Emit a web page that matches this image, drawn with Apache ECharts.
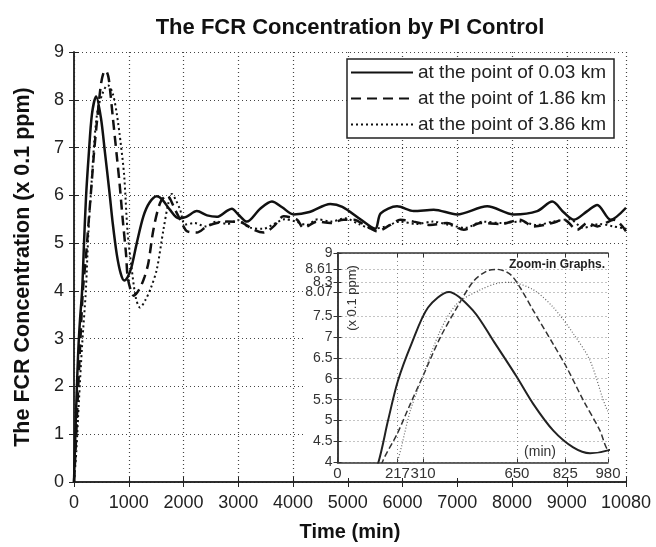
<!DOCTYPE html>
<html>
<head>
<meta charset="utf-8">
<script src="https://cdn.jsdelivr.net/npm/echarts@6/dist/echarts.min.js"></script>
<style>html,body{margin:0;padding:0;background:#fff;}#c{width:656px;height:547px;}</style>
</head>
<body>
<div id="c"></div>
<script>
// ---- data (time in min, concentration in x0.1 ppm) ----
var seriesNames = ['at the point of 0.03 km', 'at the point of 1.86 km', 'at the point of 3.86 km'];
var mainXTicks = [0, 1000, 2000, 3000, 4000, 5000, 6000, 7000, 8000, 9000, 10080];
var mainYTicks = [0, 1, 2, 3, 4, 5, 6, 7, 8, 9];
var zoomXTicks = [0, 217, 310, 650, 825, 980];
var zoomYTicks = [4, 4.5, 5, 5.5, 6, 6.5, 7, 7.5, 8.07, 8.3, 8.61, 9];

var solid003 = [[0,0],[20,0.8],[50,1.9],[80,2.8],[110,3.4],[148,4.0],[183,5.0],[219,5.95],[268,6.83],[328,7.7],[404,8.07],[492,7.62],[565,6.9],[647,6.07],[709,5.4],[782,4.76],[854,4.36],[915,4.22],[980,4.29],[1050,4.5],[1146,5.0],[1267,5.56],[1380,5.85],[1512,5.98],[1620,5.9],[1750,5.7],[1907,5.52],[2050,5.55],[2243,5.67],[2430,5.58],[2608,5.55],[2800,5.68],[2883,5.72],[3000,5.6],[3157,5.45],[3400,5.72],[3614,5.87],[3800,5.75],[4010,5.6],[4300,5.65],[4680,5.82],[4900,5.76],[5229,5.5],[5500,5.3],[5600,5.62],[5899,5.77],[6203,5.67],[6569,5.7],[6996,5.6],[7545,5.77],[8032,5.6],[8459,5.67],[8733,5.87],[8946,5.64],[9129,5.49],[9373,5.67],[9555,5.8],[9799,5.49],[10080,5.74]];

var dashed186 = [[0,0],[30,0.7],[70,1.8],[110,2.8],[162,4.0],[216,4.68],[264,5.4],[310,6.07],[372,6.98],[433,7.7],[493,8.33],[541,8.57],[578,8.61],[626,8.49],[662,8.17],[710,7.62],[782,6.82],[831,6.26],[891,5.48],[951,4.76],[980,4.29],[1040,4.0],[1090,3.9],[1200,4.05],[1290,4.3],[1359,4.59],[1450,5.28],[1572,5.84],[1695,6.0],[1846,5.7],[2000,5.35],[2060,5.25],[2243,5.22],[2426,5.35],[2608,5.42],[2791,5.45],[3035,5.44],[3279,5.28],[3462,5.22],[3645,5.35],[3828,5.56],[4071,5.49],[4193,5.32],[4437,5.45],[4680,5.42],[4924,5.49],[5107,5.49],[5351,5.35],[5534,5.25],[5777,5.38],[5960,5.49],[6203,5.45],[6500,5.38],[6813,5.42],[7118,5.28],[7422,5.42],[7800,5.4],[8144,5.49],[8388,5.35],[8733,5.42],[8946,5.49],[9190,5.28],[9373,5.42],[9555,5.35],[9860,5.49],[10080,5.25]];

var dotted386 = [[0,0],[40,0.6],[90,1.7],[150,2.9],[216,4.0],[264,5.24],[310,6.07],[372,7.14],[433,7.79],[517,8.12],[589,8.29],[625,8.3],[710,8.12],[782,7.7],[855,7.07],[915,6.43],[978,5.24],[1050,4.5],[1130,3.85],[1206,3.65],[1300,3.8],[1400,4.05],[1512,4.45],[1633,5.28],[1724,5.84],[1786,6.03],[1860,5.9],[1938,5.7],[2030,5.39],[2200,5.42],[2400,5.35],[2600,5.45],[2800,5.4],[3000,5.48],[3200,5.33],[3450,5.3],[3650,5.4],[3850,5.5],[4050,5.45],[4250,5.38],[4450,5.5],[4700,5.45],[4950,5.52],[5200,5.4],[5450,5.3],[5700,5.35],[5950,5.45],[6250,5.4],[6550,5.45],[6850,5.38],[7150,5.32],[7450,5.45],[7800,5.42],[8150,5.45],[8450,5.38],[8750,5.45],[9050,5.5],[9300,5.32],[9600,5.4],[9850,5.35],[10080,5.3]];

var FONT = "'Liberation Sans', Arial, Helvetica, sans-serif";
var chart = echarts.init(document.getElementById('c'), null, {renderer: 'canvas'});

function gridDot(color, w) { return {show: true, lineStyle: {color: color, width: w, type: [1, 3]}}; }
function plain(v) { return String(v); }

var option = {
  backgroundColor: '#fff',
  animation: false,
  legend: {
    data: seriesNames,
    orient: 'vertical',
    left: 347, top: 59,
    padding: [4, 8, 4, 3],
    itemGap: 7,
    itemWidth: 62, itemHeight: 19,
    backgroundColor: '#fff',
    borderColor: '#222', borderWidth: 1.5,
    itemStyle: {opacity: 0},
    textStyle: {fontFamily: FONT, fontSize: 19, color: '#222'}
  },
  grid: [
    {left: 74, top: 52, width: 552, height: 430},
    {left: 337.5, top: 253, width: 270.5, height: 209.5}
  ],
  xAxis: [
    {gridIndex: 0, type: 'value', min: 0, max: 10080, position: 'bottom', z: 1,
     name: 'Time (min)', nameLocation: 'middle', nameGap: 40,
     nameTextStyle: {fontFamily: FONT, fontSize: 20, fontWeight: 'bold', color: '#111'},
     axisLine: {lineStyle: {color: '#222', width: 1.5}},
     axisTick: {inside: true, length: 5, customValues: mainXTicks, lineStyle: {color: '#222'}},
     axisLabel: {customValues: mainXTicks, formatter: plain, fontFamily: FONT, fontSize: 18, color: '#222', margin: 12},
     splitLine: gridDot('#444', 1.2)},
    {gridIndex: 0, type: 'value', min: 0, max: 10080, position: 'top', z: 1,
     axisLine: {lineStyle: {color: '#222', width: 1.5}},
     axisTick: {inside: true, length: 5, customValues: mainXTicks, lineStyle: {color: '#222'}},
     axisLabel: {show: false}, splitLine: {show: false}},
    {gridIndex: 1, type: 'value', min: 0, max: 980, position: 'bottom', z: 10,
     axisLine: {lineStyle: {color: '#333', width: 1.5}},
     axisTick: {inside: true, length: 4, customValues: zoomXTicks, lineStyle: {color: '#333'}},
     axisLabel: {customValues: zoomXTicks, formatter: plain, fontFamily: FONT, fontSize: 15, color: '#333', margin: 4},
     splitLine: gridDot('#888', 1)},
    {gridIndex: 1, type: 'value', min: 0, max: 980, position: 'top', z: 10,
     axisLine: {lineStyle: {color: '#333', width: 1.5}},
     axisTick: {inside: true, length: 4, customValues: zoomXTicks, lineStyle: {color: '#333'}},
     axisLabel: {show: false}, splitLine: {show: false}}
  ],
  yAxis: [
    {gridIndex: 0, type: 'value', min: 0, max: 9, interval: 1, position: 'left', z: 1,
     name: 'The FCR Concentration (x 0.1 ppm)', nameLocation: 'middle', nameGap: 40,
     nameTextStyle: {fontFamily: FONT, fontSize: 21.5, fontWeight: 'bold', color: '#111'},
     axisLine: {lineStyle: {color: '#222', width: 1.5}},
     axisTick: {inside: true, length: 5, lineStyle: {color: '#222'}},
     axisLabel: {formatter: plain, fontFamily: FONT, fontSize: 18, color: '#222', margin: 10},
     splitLine: gridDot('#444', 1.2)},
    {gridIndex: 0, type: 'value', min: 0, max: 9, interval: 1, position: 'right', z: 1,
     axisLine: {lineStyle: {color: '#222', width: 1.5}},
     axisTick: {inside: true, length: 5, lineStyle: {color: '#222'}},
     axisLabel: {show: false}, splitLine: {show: false}},
    {gridIndex: 1, type: 'value', min: 4, max: 9, position: 'left', z: 10,
     axisLine: {lineStyle: {color: '#333', width: 1.5}},
     axisTick: {inside: true, length: 4, customValues: zoomYTicks, lineStyle: {color: '#333'}},
     axisLabel: {customValues: zoomYTicks, formatter: plain, fontFamily: FONT, fontSize: 14, color: '#333', margin: 5},
     splitLine: gridDot('#888', 1)},
    {gridIndex: 1, type: 'value', min: 4, max: 9, position: 'right', z: 10,
     axisLine: {lineStyle: {color: '#333', width: 1.5}},
     axisTick: {inside: true, length: 4, customValues: zoomYTicks, lineStyle: {color: '#333'}},
     axisLabel: {show: false}, splitLine: {show: false}}
  ],
  graphic: [
    {type: 'text', z: 20, x: 350, y: 28,
     style: {text: 'The FCR Concentration by PI Control', fontFamily: FONT, fontSize: 22, fontWeight: 'bold', fill: '#111', align: 'center', verticalAlign: 'middle'}},
    {type: 'rect', z: 5, silent: true, shape: {x: 303, y: 247, width: 320, height: 231}, style: {fill: '#fff'}},
    {type: 'text', z: 20, x: 352, y: 298, rotation: Math.PI / 2,
     style: {text: '(x 0.1 ppm)', fontFamily: FONT, fontSize: 13, fill: '#333', align: 'center', verticalAlign: 'middle'}},
    {type: 'text', z: 20, x: 540, y: 452,
     style: {text: '(min)', fontFamily: FONT, fontSize: 14, fill: '#333', align: 'center', verticalAlign: 'middle'}},
    {type: 'text', z: 20, x: 605, y: 265,
     style: {text: 'Zoom-in Graphs.', fontFamily: FONT, fontSize: 12, fontWeight: 'bold', fill: '#222', align: 'right', verticalAlign: 'middle'}}
  ],
  series: [
    {name: seriesNames[0], type: 'line', xAxisIndex: 0, yAxisIndex: 0, data: solid003, symbol: 'none', smooth: 0.3, z: 2,
     itemStyle: {color: '#111'}, lineStyle: {color: '#111', width: 2.5, type: 'solid'}},
    {name: seriesNames[1], type: 'line', xAxisIndex: 0, yAxisIndex: 0, data: dashed186, symbol: 'none', smooth: 0.3, z: 2,
     itemStyle: {color: '#111'}, lineStyle: {color: '#111', width: 2.5, type: [10, 6]}},
    {name: seriesNames[2], type: 'line', xAxisIndex: 0, yAxisIndex: 0, data: dotted386, symbol: 'none', smooth: 0.3, z: 2,
     itemStyle: {color: '#111'}, lineStyle: {color: '#111', width: 2, type: [2, 3]}},
    {name: 'zoom solid', type: 'line', xAxisIndex: 2, yAxisIndex: 2, data: solid003, symbol: 'none', smooth: 0.3, z: 12, clip: true,
     lineStyle: {color: '#222', width: 2, type: 'solid'}},
    {name: 'zoom dashed', type: 'line', xAxisIndex: 2, yAxisIndex: 2, data: dashed186, symbol: 'none', smooth: 0.3, z: 12, clip: true,
     lineStyle: {color: '#333', width: 1.5, type: [6, 3]}},
    {name: 'zoom dotted', type: 'line', xAxisIndex: 2, yAxisIndex: 2, data: dotted386, symbol: 'none', smooth: 0.3, z: 12, clip: true,
     lineStyle: {color: '#666', width: 1.2, type: [1, 2]}}
  ]
};
chart.setOption(option);
</script>
</body>
</html>
